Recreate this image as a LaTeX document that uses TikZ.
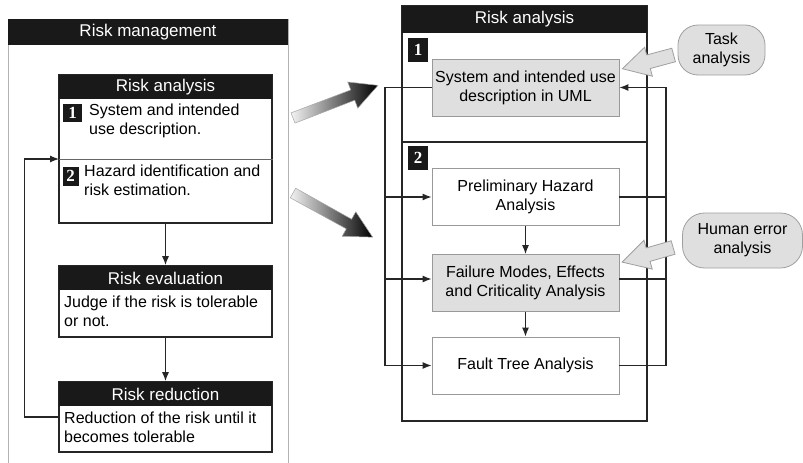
\documentclass[tikz,border=0pt]{standalone}
\usepackage{fontspec}
\setmainfont{Liberation Sans}
\newfontfamily\numfont{Liberation Serif}
\usetikzlibrary{arrows.meta}

\begin{document}
\begin{tikzpicture}[x=1pt, y=-1pt,
    bodytext/.style={font=\fontsize{16}{19}\selectfont, inner sep=0pt},
    note/.style={bodytext, anchor=north west, align=left},
    bar/.style={fill=black!90, text=white, inner sep=0pt, font=\fontsize{17}{20}\selectfont},
    frame/.style={draw=black!85, line width=1.6pt, inner sep=0pt},
    badge/.style={fill=black!90, text=white, inner sep=0pt, font=\numfont\bfseries\fontsize{17}{17}\selectfont},
    taskbox/.style={bodytext, draw=gray!80, line width=0.8pt, minimum width=187pt, minimum height=57pt, align=center},
    link/.style={draw=black!85, line width=1.2pt},
    arr/.style={link, -{Latex[length=9pt, width=7pt]}},
    callout/.style={fill=gray!25, draw=gray!75, line width=0.8pt}]
    \useasboundingbox (0,0) rectangle (803,463);

    % risk management column
    \draw[gray!60, line width=0.8pt] (8,463) -- (8,19) -- (288,19) -- (288,463);
    \node[bar, minimum width=280pt, minimum height=26pt] (rm) at (148,32) {Risk management};

    \node[frame, minimum width=213pt, minimum height=148pt] (ra) at (165.5,149) {};
    \node[bar, minimum width=213pt, minimum height=24pt] (rat) at (165.5,87) {Risk analysis};
    \coordinate (radiv) at (59,159);
    \draw[black!60, line width=0.8pt] (radiv) -- (radiv -| ra.east);
    \node[badge, minimum width=19pt, minimum height=18pt] (ra1) at (72.5,113) {1};
    \node[note] (ra1t) at (89,104) {System and intended\\use description.};
    \node[badge, minimum width=16pt, minimum height=19pt] (ra2) at (70.5,176) {2};
    \node[note] (ra2t) at (84,165) {Hazard identification and\\risk estimation.};

    \node[frame, minimum width=213pt, minimum height=71pt] (re) at (165.5,301.5) {};
    \node[bar, minimum width=213pt, minimum height=24pt] (ret) at (165.5,278) {Risk evaluation};
    \node[note] (ret2) at (64,296) {Judge if the risk is tolerable\\or not.};

    \node[frame, minimum width=213pt, minimum height=70pt] (rr) at (165.5,417) {};
    \node[bar, minimum width=213pt, minimum height=24pt] (rrt) at (165.5,394) {Risk reduction};
    \node[note, font=\fontsize{16}{18.5}\selectfont] (rrt2) at (64,412) {Reduction of the risk until it\\becomes tolerable};

    \draw[arr] (ra.south) -- (re.north);
    \draw[arr] (re.south) -- (rr.north);
    \draw[arr] (rr.west) -- ++(-34,0) |- (radiv);

    % shaded arrows between the columns
    \begin{scope}[shift={(293,118)}, rotate=21]
        \shadedraw[left color=gray!10, right color=black, draw=gray!70, line width=0.5pt]
            (0,-5.5) -- (64,-5.5) -- (64,-14) -- (91,0) -- (64,14) -- (64,5.5) -- (0,5.5) -- cycle;
    \end{scope}
    \begin{scope}[shift={(293,193)}, rotate=-29]
        \shadedraw[left color=gray!10, right color=black, draw=gray!70, line width=0.5pt]
            (0,-5.5) -- (64,-5.5) -- (64,-14) -- (91,0) -- (64,14) -- (64,5.5) -- (0,5.5) -- cycle;
    \end{scope}

    % risk analysis detail
    \node[frame, line width=2.2pt, minimum width=245pt, minimum height=415pt] (rb) at (524.5,213.5) {};
    \node[bar, minimum width=245pt, minimum height=27pt] (rbt) at (524.5,19.5) {Risk analysis};
    \coordinate (rbdiv) at (402,142);
    \draw[link] (rbdiv) -- (rbdiv -| rb.east);
    \node[badge, minimum width=20pt, minimum height=24pt] (rb1) at (418,50) {1};
    \node[badge, minimum width=20pt, minimum height=24pt] (rb2) at (418,157.5) {2};

    \node[taskbox, fill=gray!25] (sys) at (525.5,87.5) {System and intended use\\description in UML};
    \node[taskbox] (pha) at (525.5,197) {Preliminary Hazard\\Analysis};
    \node[taskbox, fill=gray!25] (fmeca) at (525.5,283) {Failure Modes, Effects\\and Criticality Analysis};
    \node[taskbox] (fta) at (525.5,365.5) {Fault Tree Analysis};

    \coordinate (lbus) at (385,0);
    \coordinate (rbus) at (666,0);
    \draw[arr] (sys.west) -- (sys.west -| lbus) |- (fta.west);
    \draw[arr] (pha.west -| lbus) -- (pha.west);
    \draw[arr] ([yshift=4pt]fmeca.west -| lbus) -- ([yshift=4pt]fmeca.west);
    \draw[arr] (fta.east) -- (fta.east -| rbus) |- (sys.east);
    \draw[link] (pha.east) -- (pha.east -| rbus);
    \draw[link] ([yshift=4pt]fmeca.east) -- ([yshift=4pt]fmeca.east -| rbus);
    \draw[arr] (pha) -- (fmeca);
    \draw[arr] (fmeca) -- (fta);

    % callouts
    \node[callout, bodytext, rounded corners=20pt, minimum width=87pt, minimum height=50pt, align=center] (task) at (721.5,50) {Task\\analysis};
    \node[callout, bodytext, rounded corners=22pt, minimum width=120pt, minimum height=55pt, align=center] (human) at (742.5,240.5) {Human error\\analysis};
    \begin{scope}[shift={([xshift=-4pt, yshift=-5pt]task.west)}, rotate=195]
        \filldraw[callout] (0,-7) -- (26,-7) -- (26,-15) -- (53,0) -- (26,15) -- (26,7) -- (0,7) -- cycle;
    \end{scope}
    \begin{scope}[shift={([xshift=-9pt, yshift=-7pt]human.west)}, rotate=196]
        \filldraw[callout] (0,-7) -- (26,-7) -- (26,-15) -- (53,0) -- (26,15) -- (26,7) -- (0,7) -- cycle;
    \end{scope}
\end{tikzpicture}
\end{document}
